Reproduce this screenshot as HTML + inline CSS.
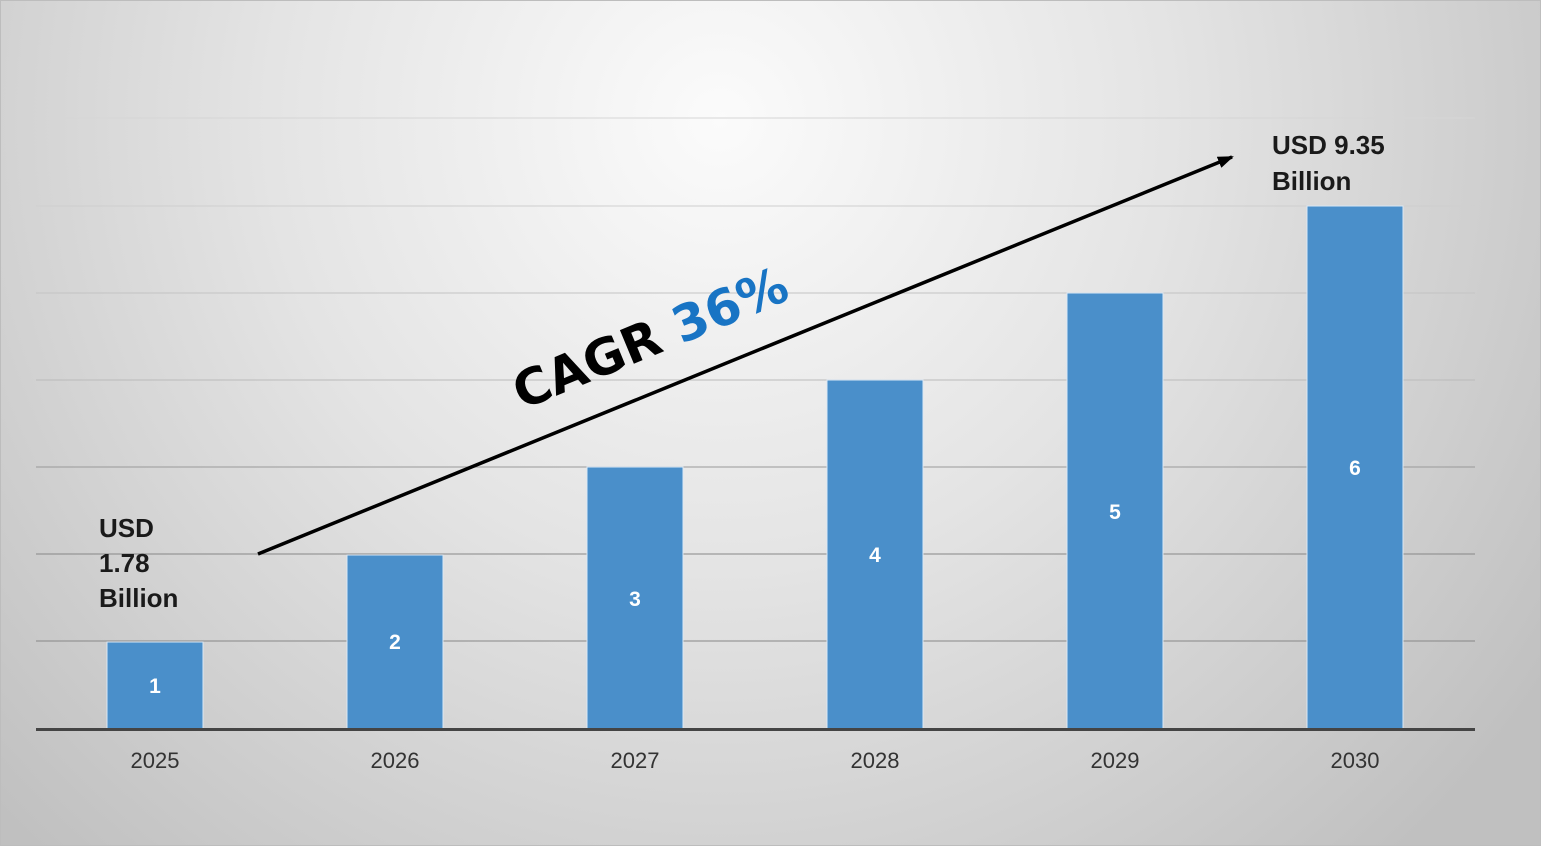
<!DOCTYPE html>
<html><head><style>
html,body{margin:0;padding:0}
body{width:1541px;height:846px;overflow:hidden}
</style></head><body>
<svg width="1541" height="846" viewBox="0 0 1541 846" xmlns="http://www.w3.org/2000/svg" font-family="'Liberation Sans', 'DejaVu Sans', sans-serif">
<defs>
<radialGradient id="bg" cx="720" cy="120" r="1000" gradientUnits="userSpaceOnUse">
<stop offset="0" stop-color="#fbfbfb"/>
<stop offset="0.45" stop-color="#e4e4e4"/>
<stop offset="1" stop-color="#c0c0c0"/>
</radialGradient>
<marker id="ah" markerWidth="16" markerHeight="12" refX="14" refY="6" orient="auto" markerUnits="userSpaceOnUse"><path d="M0,0 L16,6 L0,12 z" fill="#000"/></marker>
</defs>
<rect width="1541" height="846" fill="url(#bg)"/>
<rect x="0.5" y="0.5" width="1540" height="845" fill="none" stroke="#bdbdbd"/>
<g stroke="#9a9a9a" stroke-width="1.2" opacity="0.8">
<line x1="36" y1="118" x2="1475" y2="118" stroke="#d6d6d6"/>
<line x1="36" y1="206" x2="1475" y2="206" stroke="#cfcfcf"/>
<line x1="36" y1="293" x2="1475" y2="293" stroke="#c4c4c4"/>
<line x1="36" y1="380" x2="1475" y2="380" stroke="#bbbbbb"/>
<line x1="36" y1="467" x2="1475" y2="467"/>
<line x1="36" y1="554" x2="1475" y2="554" stroke="#888"/>
<line x1="36" y1="641" x2="1475" y2="641" stroke="#888"/>
</g>
<g fill="#4a8fca" stroke="#dbe8f5" stroke-width="1">
<rect x="107" y="642" width="96" height="87"/>
<rect x="347" y="555" width="96" height="174"/>
<rect x="587" y="467" width="96" height="262"/>
<rect x="827" y="380" width="96" height="349"/>
<rect x="1067" y="293" width="96" height="436"/>
<rect x="1307" y="206" width="96" height="523"/>
</g>
<line x1="36" y1="729.5" x2="1475" y2="729.5" stroke="#444" stroke-width="3"/>
<g fill="#fff" font-weight="bold" font-size="21" text-anchor="middle">
<text x="155" y="693">1</text><text x="395" y="649">2</text><text x="635" y="606">3</text>
<text x="875" y="562">4</text><text x="1115" y="519">5</text><text x="1355" y="475">6</text>
</g>
<g fill="#333" font-size="22" text-anchor="middle">
<text x="155" y="768">2025</text><text x="395" y="768">2026</text><text x="635" y="768">2027</text>
<text x="875" y="768">2028</text><text x="1115" y="768">2029</text><text x="1355" y="768">2030</text>
</g>
<line x1="258" y1="554" x2="1232" y2="157" stroke="#000" stroke-width="3.5" marker-end="url(#ah)"/>
<text transform="translate(522,410) rotate(-22.5)" font-size="50" font-weight="bold" fill="#000" font-family="'DejaVu Sans', sans-serif">CAGR <tspan fill="#1874c4">36%</tspan></text>
<g fill="#1a1a1a" font-weight="bold" font-size="26">
<text x="99" y="537">USD</text><text x="99" y="572">1.78</text><text x="99" y="607">Billion</text>
<text x="1272" y="154">USD 9.35</text><text x="1272" y="190">Billion</text>
</g>
</svg>
</body></html>
